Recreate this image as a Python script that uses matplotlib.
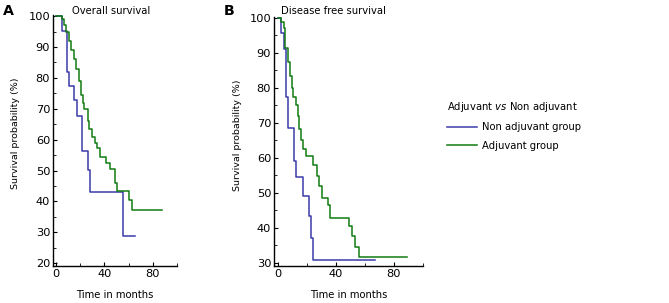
import matplotlib
matplotlib.use("Agg")
import matplotlib.pyplot as plt
from matplotlib.lines import Line2D
from matplotlib.ticker import MultipleLocator

# Overall survival (panel A), Kaplan-Meier steps
os_non_t = [0, 5, 8.8, 11, 15, 17.6, 21, 26, 28, 55, 65.5]
os_non_s = [100, 95.2, 82, 77.3, 72.7, 67.6, 56.3, 50.2, 43.2, 28.7, 28.7]
os_adj_t = [0, 5, 6.6, 8.5, 10.7, 12.4, 14.5, 16.5, 18.7, 20.4, 22, 23, 26, 27,
            29.8, 32, 33.6, 36.4, 41.3, 44.6, 48.8, 50.1, 60.6, 62.8, 87.6]
os_adj_s = [100, 99, 97, 95, 92, 89, 86, 83, 79, 74.5, 72, 70, 66, 63.4,
            61, 59, 57.3, 54.3, 52.5, 50.6, 46, 43.5, 40.5, 37.2, 37.2]

# Disease free survival (panel B)
dfs_non_t = [0, 2.3, 4.6, 5.8, 6.7, 10.9, 12.6, 17.5, 21.7, 22.6, 24.5, 66.9]
dfs_non_s = [100, 95.6, 91, 77.5, 68.5, 59.2, 54.5, 49.1, 43.2, 36.9, 30.6, 30.6]
dfs_adj_t = [0, 2.5, 4.6, 5.3, 6.7, 8.1, 9.8, 10.5, 12.3, 13.7, 14.4, 16.3, 17.5,
             19.1, 24.2, 26.8, 28.4, 30.3, 34.7, 36.1, 48.7, 51, 53.4, 55.9, 89]
dfs_adj_s = [100, 99, 97, 91.5, 87.5, 83.4, 80, 77.5, 75, 72, 68.2, 65, 62.5,
             60.6, 58, 54.7, 51.8, 48.5, 46.6, 42.9, 40.4, 37.5, 34.5, 31.5, 31.5]

blue = "#3a3aa8"
green = "#117a11"
fs = 7.2

plt.rcParams['font.family'] = ['DejaVu Sans']
plt.rcParams['font.size'] = fs

fig = plt.figure(figsize=(6.69, 3.03), dpi=100)
axA = fig.add_axes([0.0792, 0.123, 0.1854, 0.827])
axB = fig.add_axes([0.4096, 0.123, 0.2227, 0.821])


def style(ax, ylo, ylab_x, ylab_y):
    for s in ['top', 'right']:
        ax.spines[s].set_visible(False)
    ax.spines['left'].set_linewidth(1.0)
    ax.spines['bottom'].set_linewidth(1.0)
    ax.set_xlim(-2.6, 100)
    ax.set_ylim(ylo, 100.3)
    ax.xaxis.set_major_locator(MultipleLocator(40))
    ax.xaxis.set_minor_locator(MultipleLocator(20))
    ax.yaxis.set_major_locator(MultipleLocator(10))
    ax.yaxis.set_minor_locator(MultipleLocator(5))
    ax.tick_params(which='major', direction='in', length=3, width=0.8,
                   labelsize=fs + 1, pad=2)
    ax.tick_params(which='minor', direction='in', length=2, width=0.6)
    ax.set_xlabel("Time in months", fontsize=fs, labelpad=8)
    ax.set_ylabel("Survival probability (%)", fontsize=fs - 0.4)
    ax.yaxis.set_label_coords(ylab_x, ylab_y)


axA.step(os_non_t, os_non_s, where='post', color=blue, lw=1.1)
axA.step(os_adj_t, os_adj_s, where='post', color=green, lw=1.1)
style(axA, 19.2, -0.266, 0.53)

axB.step(dfs_non_t, dfs_non_s, where='post', color=blue, lw=1.1)
axB.step(dfs_adj_t, dfs_adj_s, where='post', color=green, lw=1.1)
style(axB, 29.1, -0.215, 0.525)

fig.text(0.166, 0.965, "Overall survival", fontsize=fs, ha='center', va='center')
fig.text(0.498, 0.965, "Disease free survival", fontsize=fs, ha='center', va='center')
fig.text(0.004, 0.965, "A", fontsize=fs + 3, fontweight='bold', va='center')
fig.text(0.335, 0.965, "B", fontsize=fs + 3, fontweight='bold', va='center')

handles = [Line2D([], [], color=blue, lw=1.1), Line2D([], [], color=green, lw=1.1)]
leg = fig.legend(handles, ["Non adjuvant group", "Adjuvant group"],
                 title=r"Adjuvant $\it{vs}$ Non adjuvant",
                 loc='upper left', bbox_to_anchor=(0.655, 0.70),
                 frameon=False, fontsize=fs, title_fontsize=fs,
                 handlelength=3.0, handletextpad=0.5, labelspacing=0.85)
leg._legend_box.align = "left"
leg._legend_box.sep = 6

fig.savefig("out.png", dpi=100)
